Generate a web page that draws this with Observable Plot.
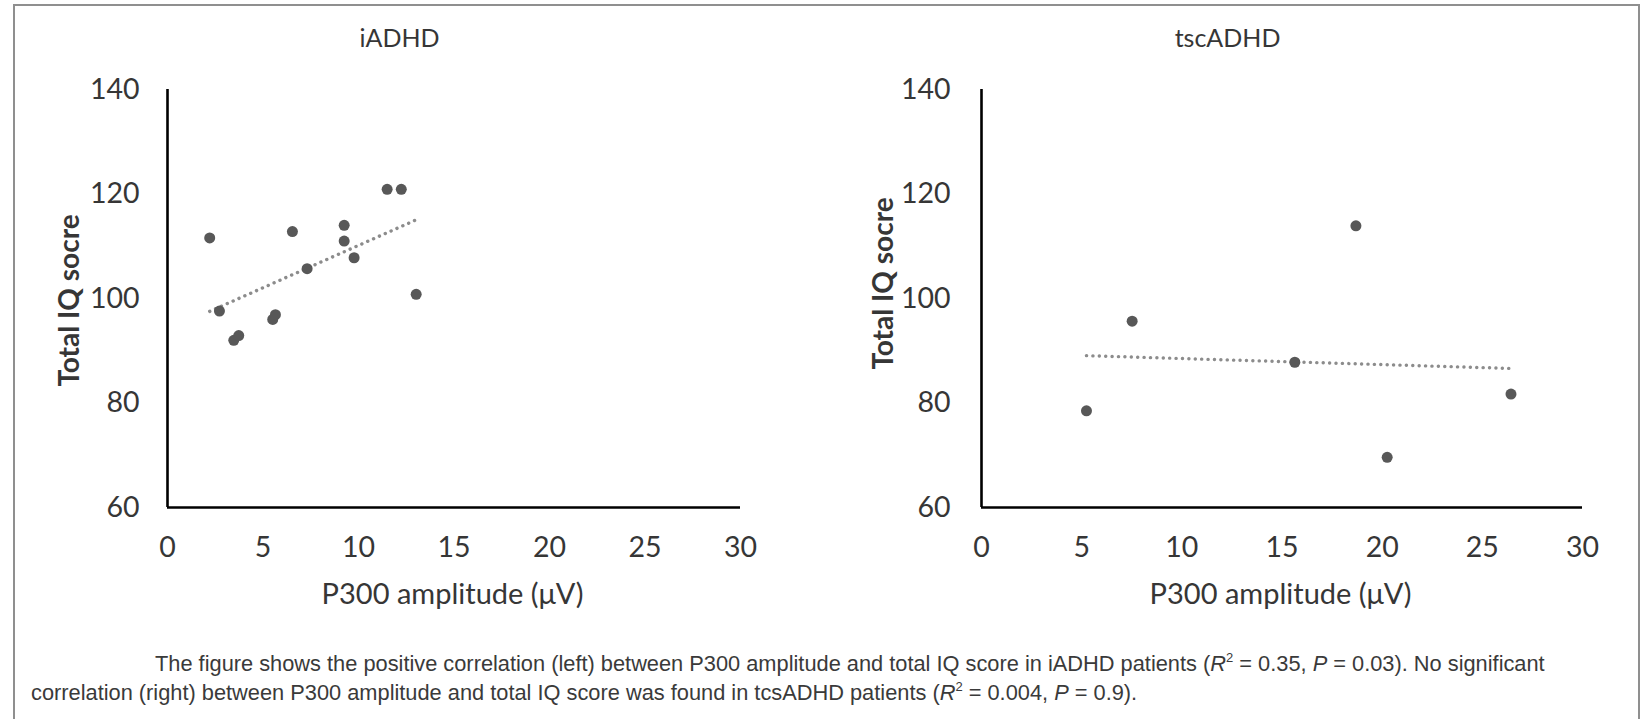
<!DOCTYPE html>
<html>
<head>
<meta charset="utf-8">
<script src="https://cdn.jsdelivr.net/npm/d3@7"></script>
<script src="https://cdn.jsdelivr.net/npm/@observablehq/plot@0.6"></script>
<style>
  html, body { margin: 0; padding: 0; background: #fff; }
  #page { position: relative; width: 1642px; height: 719px; overflow: hidden; background: #fff; }
  #frame { position: absolute; left: 13px; top: 4px; width: 1627px; height: 740px; border: 2px solid #8f8f8f; box-sizing: border-box; }
  .panel { position: absolute; top: 0; }
  .panel svg { overflow: visible; }
  .cap { position: absolute; font-family: "Liberation Sans", Arial, sans-serif; font-size: 21.8px; color: #3a3a3a; white-space: nowrap; line-height: 1; }
  .cap i { font-style: italic; }
  .cap sup { font-size: 13px; vertical-align: 0; position: relative; top: -9px; }
</style>
</head>
<body>
<div id="page">
  <div id="frame"></div>
  <div class="panel" id="left" style="left:0px"></div>
  <div class="panel" id="right" style="left:810px"></div>
  <div class="cap" id="cap1" style="left:155px; top:653px"></div>
  <div class="cap" id="cap2" style="left:31px; top:682px"></div>
</div>
<script>
// ---- data ----
const titles = ["iADHD", "tscADHD"];
const xLabel = "P300 amplitude (\u03bcV)";
const yLabel = "Total IQ socre";
const xTicks = [0, 5, 10, 15, 20, 25, 30];
const yTicks = [60, 80, 100, 120, 140];

const iadhdAmplitude = [2.21, 2.72, 3.47, 3.73, 5.51, 5.65, 6.54, 7.31, 9.25, 9.25, 9.77, 11.50, 12.24, 13.02];
const iadhdIQ        = [111.6, 97.6, 92.0, 92.9, 96.0, 96.9, 112.8, 105.7, 114.0, 111.0, 107.8, 120.9, 120.9, 100.8];

const tscAmplitude = [5.24, 7.52, 15.64, 18.69, 20.25, 26.43];
const tscIQ        = [78.5, 95.65, 87.8, 113.9, 69.6, 81.7];

const captionLine1 = ["The figure shows the positive correlation (left) between P300 amplitude and total IQ score in iADHD patients (", "R", "2", " = 0.35, ", "P", " = 0.03). No significant"];
const captionLine2 = ["correlation (right) between P300 amplitude and total IQ score was found in tcsADHD patients (", "R", "2", " = 0.004, ", "P", " = 0.9)."];

// ---- drawing ----
const FONT = "Lato, 'Open Sans', sans-serif";
const TEXT = "#363636";

function panel({title, xs, ys, width, marginLeft, marginRight, tickPad, yLabelDy}) {
  const data = xs.map((x, i) => ({x, y: ys[i]}));
  return Plot.plot({
    width,
    height: 640,
    marginLeft,
    marginRight,
    marginTop: 89,
    marginBottom: 133,
    style: {fontFamily: FONT, fontSize: "28px", color: TEXT, background: "transparent", overflow: "visible"},
    x: {domain: [0, 30], ticks: xTicks},
    y: {domain: [60, 140], ticks: yTicks},
    marks: [
      Plot.axisX(xTicks, {tickSize: 0, tickPadding: 29, label: null, fontSize: 28.5, fill: TEXT}),
      Plot.axisY(yTicks, {tickSize: 0, tickPadding: tickPad, label: null, fontSize: 28.5, fill: TEXT}),
      Plot.ruleX([0], {stroke: "#000", strokeWidth: 2.6}),
      Plot.ruleY([60], {stroke: "#000", strokeWidth: 2.6}),
      Plot.linearRegressionY(data, {x: "x", y: "y", ci: 0, stroke: "#8c8c8c", strokeWidth: 3.4, strokeLinecap: "round", strokeDasharray: "0.1,6.3"}),
      Plot.dot(data, {x: "x", y: "y", r: 5.5, fill: "#585858", stroke: "none"}),
      Plot.text([title], {frameAnchor: "top", dx: -54.5, dy: -51, lineAnchor: "middle", fontSize: 25, fill: TEXT}),
      Plot.text([xLabel], {frameAnchor: "bottom", dx: -1.5, dy: 87, lineAnchor: "middle", fontSize: 29, fill: TEXT}),
      Plot.text([yLabel], {frameAnchor: "left", textAnchor: "middle", dx: -97, dy: yLabelDy, rotate: -90, lineAnchor: "middle", fontSize: 28, fontWeight: "bold", fill: TEXT})
    ]
  });
}

document.getElementById("left").appendChild(panel({
  title: titles[0], xs: iadhdAmplitude, ys: iadhdIQ,
  width: 810, marginLeft: 167, marginRight: 70, tickPad: 28, yLabelDy: 2
}));
document.getElementById("right").appendChild(panel({
  title: titles[1], xs: tscAmplitude, ys: tscIQ,
  width: 820, marginLeft: 171, marginRight: 48, tickPad: 31, yLabelDy: -15
}));

function fillCaption(el, parts) {
  el.innerHTML = "";
  parts.forEach((p, i) => {
    let node;
    if (i === 1 || i === 4) { node = document.createElement("i"); node.textContent = p; }
    else if (i === 2) { node = document.createElement("sup"); node.textContent = p; }
    else { node = document.createTextNode(p); }
    el.appendChild(node);
  });
}
fillCaption(document.getElementById("cap1"), captionLine1);
fillCaption(document.getElementById("cap2"), captionLine2);
</script>
</body>
</html>
